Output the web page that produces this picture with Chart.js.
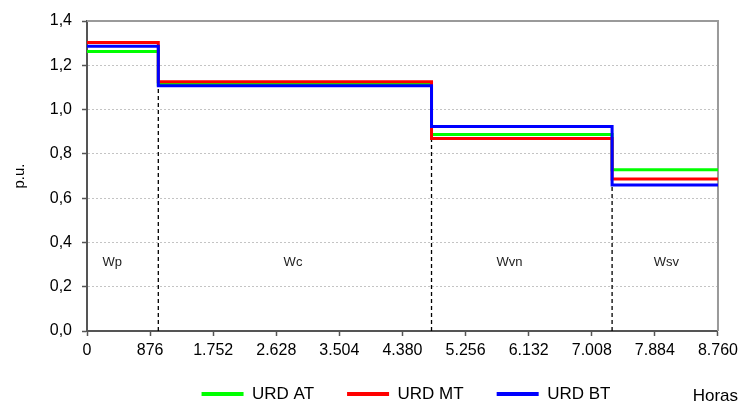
<!DOCTYPE html>
<html>
<head>
<meta charset="utf-8">
<script src="https://cdn.jsdelivr.net/npm/chart.js@4"></script>
<style>
  html, body { margin: 0; padding: 0; background: #fff; }
  #wrap { width: 743px; height: 403px; }
</style>
</head>
<body>
<div id="wrap"><canvas id="chart" width="743" height="403"></canvas></div>
<script>
// Step boundaries (hours) and per-period values for each series
const hours = [0, 990, 4783, 7290, 8760];
const urdAT = [1.262, 1.113, 0.887, 0.728];
const urdMT = [1.303, 1.126, 0.869, 0.687];
const urdBT = [1.286, 1.108, 0.923, 0.659];
const seriesNames = ['URD AT', 'URD MT', 'URD BT'];
const seriesColors = ['#00ff00', '#ff0000', '#0000ff'];
const periodNames = ['Wp', 'Wc', 'Wvn', 'Wsv'];
const periodLabelX = [350, 2860, 5865, 8045];
const periodLabelY = 0.31;

const FONT = "'Liberation Sans', Arial, sans-serif";

function stepPoints(vals) {
    return hours.map((h, i) => ({ x: h, y: vals[Math.min(i, vals.length - 1)] }));
}

const seriesData = [urdAT, urdMT, urdBT];
// later series on top (blue last), separators underneath
const datasets = seriesData.map((vals, i) => ({
    label: seriesNames[i],
    data: stepPoints(vals),
    borderColor: seriesColors[i],
    backgroundColor: seriesColors[i],
    borderWidth: 3,
    stepped: 'before',
    pointRadius: 0,
    fill: false,
    order: seriesData.length - i
}));

// dashed separators at each period change, up to the lowest series there
hours.slice(1, -1).forEach((h, i) => {
    const top = Math.min(...seriesData.map(v => v[i + 1]));
    datasets.push({
        label: '_sep',
        data: [{ x: h, y: 0 }, { x: h, y: top }],
        borderColor: '#000',
        borderWidth: 1.3,
        borderDash: [4, 3],
        pointRadius: 0,
        fill: false,
        order: 10
    });
});

const extras = {
    id: 'extras',
    afterLayout(chart) {
        const lg = chart.legend;
        lg.left += 46;
        lg.right += 46;
        lg.top -= 12.5;
        lg.bottom = chart.height;
        lg.height = lg.bottom - lg.top;
    },
    beforeDatasetsDraw(chart) {
        const { ctx, chartArea: a } = chart;
        ctx.save();
        ctx.strokeStyle = '#9a9a9a';
        ctx.lineWidth = 2;
        ctx.beginPath();
        ctx.moveTo(a.left, a.top);
        ctx.lineTo(a.right, a.top);
        ctx.lineTo(a.right, a.bottom);
        ctx.stroke();
        ctx.restore();
    },
    afterDraw(chart) {
        const { ctx } = chart;
        const xs = chart.scales.x, ys = chart.scales.y;
        ctx.save();
        ctx.fillStyle = '#222';
        ctx.font = '13px ' + FONT;
        ctx.textAlign = 'center';
        ctx.textBaseline = 'middle';
        periodNames.forEach((n, i) => {
            ctx.fillText(n, xs.getPixelForValue(periodLabelX[i]), ys.getPixelForValue(periodLabelY));
        });
        ctx.font = '17px ' + FONT;
        ctx.textAlign = 'right';
        ctx.fillStyle = '#000';
        ctx.fillText('Horas', chart.width - 5, 396);
        ctx.restore();
    }
};

new Chart(document.getElementById('chart'), {
    type: 'line',
    data: { datasets },
    plugins: [extras],
    options: {
        responsive: false,
        animation: false,
        layout: { padding: { top: 21, right: 23, bottom: 0, left: 0 } },
        plugins: {
            tooltip: { enabled: false },
            legend: {
                position: 'bottom',
                maxHeight: 38,
                labels: {
                    boxWidth: 42,
                    boxHeight: 4,
                    padding: 33,
                    color: '#000',
                    font: { family: FONT, size: 17 },
                    filter: item => item.text !== '_sep',
                    generateLabels: chart => chart.data.datasets.map((d, i) => ({
                        text: d.label,
                        fillStyle: d.borderColor,
                        strokeStyle: d.borderColor,
                        lineWidth: 0,
                        datasetIndex: i
                    }))
                }
            }
        },
        scales: {
            x: {
                type: 'linear',
                min: 0,
                max: 8760,
                afterFit: s => { s.height = 34; },
                grid: { drawOnChartArea: false, tickLength: 5, tickColor: '#555', tickWidth: 1.5 },
                border: { color: '#555', width: 2 },
                ticks: {
                    stepSize: 876,
                    padding: 5,
                    maxRotation: 0,
                    autoSkip: false,
                    color: '#000',
                    font: { family: FONT, size: 16 },
                    callback: v => String(Math.round(v)).replace(/\B(?=(\d{3})+(?!\d))/g, '.')
                }
            },
            y: {
                min: 0,
                max: 1.4,
                afterFit: s => { s.width = 87; },
                grid: { color: '#c4c4c4', lineWidth: 1, tickLength: 5, tickColor: '#555', tickWidth: 1.5, tickBorderDash: [] },
                border: { color: '#555', width: 2, dash: [2, 2] },
                ticks: {
                    stepSize: 0.2,
                    padding: 10,
                    color: '#000',
                    font: { family: FONT, size: 16 },
                    callback: v => v.toFixed(1).replace('.', ',')
                },
                title: {
                    display: true,
                    text: 'p.u.',
                    color: '#000',
                    font: { family: FONT, size: 15 },
                    padding: { top: 11, bottom: 0 }
                }
            }
        }
    }
});
</script>
</body>
</html>
